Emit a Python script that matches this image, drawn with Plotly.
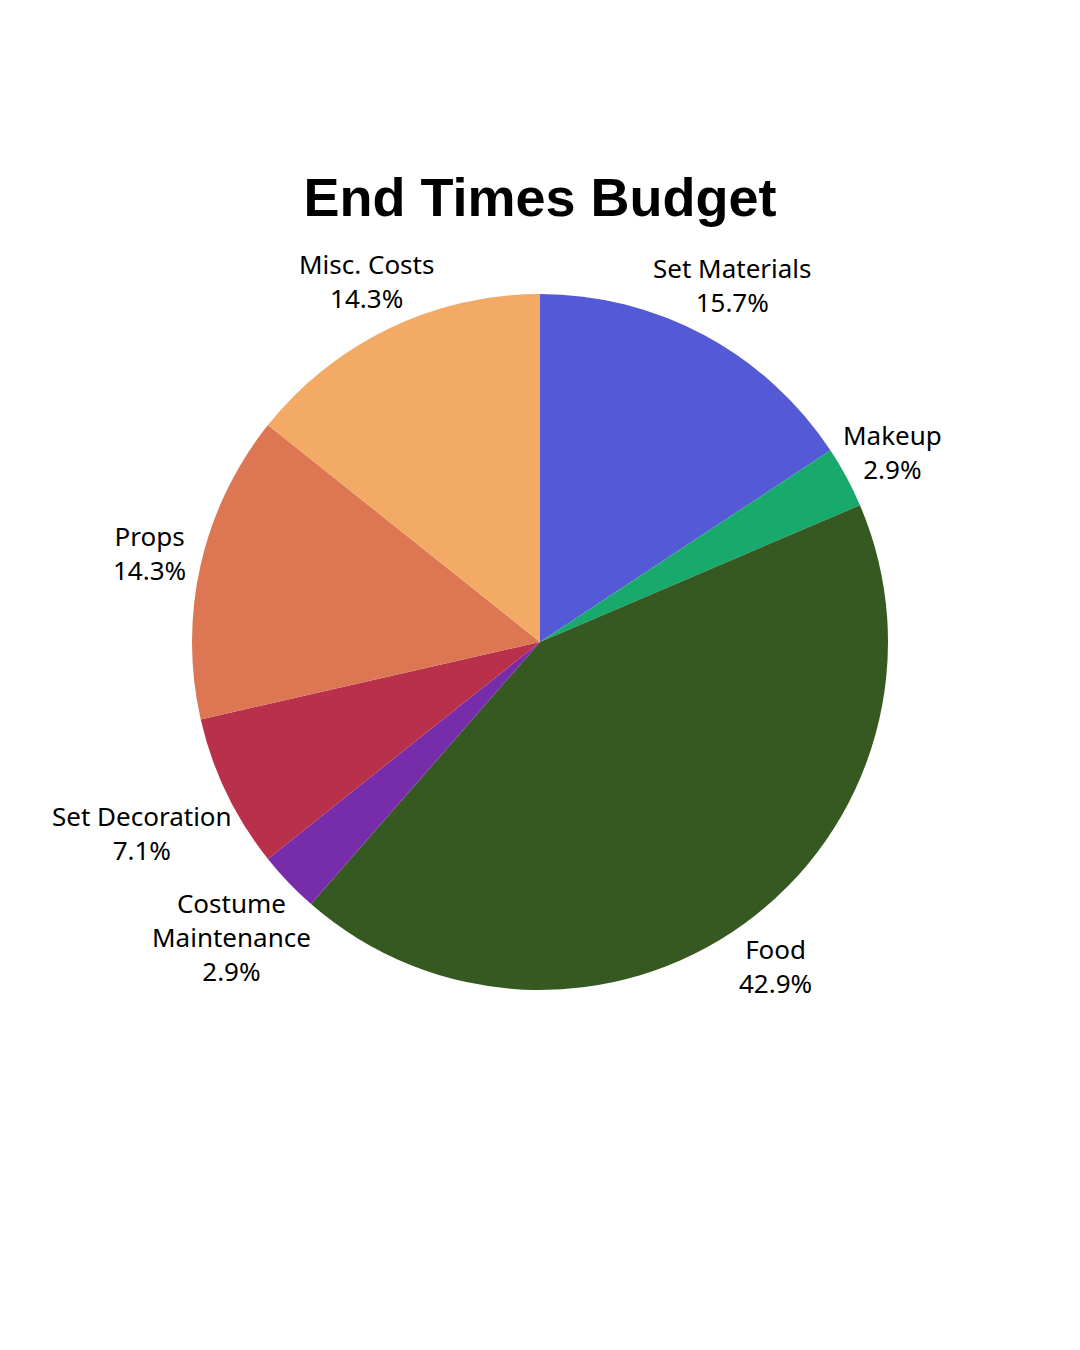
import math
import plotly.graph_objects as go

categories = ["Set Materials", "Makeup", "Food", "Costume<br>Maintenance",
              "Set Decoration", "Props", "Misc. Costs"]
amounts = [11, 2, 30, 2, 5, 10, 10]
slice_colors = ["#545AD6", "#18AA6C", "#365821", "#772CAA",
                "#B8304A", "#DC7653", "#F3AA65"]

W, H = 1080, 1350
# pie geometry in figure pixels (page body adds 8px offset)
cx, cy, R = 532, 1350 - 634, 348
label_size = 26

fig = go.Figure(go.Pie(
    labels=categories,
    values=amounts,
    sort=False,
    direction="clockwise",
    rotation=0,
    marker=dict(colors=slice_colors, line=dict(width=0)),
    textinfo="none",
    domain=dict(x=[(cx - R) / W, (cx + R) / W], y=[(cy - R) / H, (cy + R) / H]),
    showlegend=False,
    hoverinfo="label+percent",
))

# labels sit on each slice's mid angle, pushed out until the box clears the pie
total = sum(amounts)
cum = 0
for name, v in zip(categories, amounts):
    mid = math.radians((cum + v / 2) / total * 360)
    cum += v
    pct = v / total * 100
    lines = name.split("<br>")
    bw = max(len(s) for s in lines) * 13.5
    bh = (len(lines) + 1) * 28
    d = R * 1.15
    while True:
        lx = d * math.sin(mid)
        ly = d * math.cos(mid)
        nx = max(abs(lx) - bw / 2, 0)
        ny = max(abs(ly) - bh / 2, 0)
        if math.hypot(nx, ny) >= R - 4:
            break
        d += 1
    fig.add_annotation(
        x=(cx + lx) / W, y=(cy + ly) / H,
        xref="paper", yref="paper", xanchor="center", yanchor="middle",
        text=f"{name}<br>{pct:.1f}%", showarrow=False,
        font=dict(family="Noto Sans", size=label_size, color="black"),
    )

fig.update_layout(
    width=W, height=H,
    margin=dict(l=0, r=0, t=0, b=0),
    paper_bgcolor="white",
    title=dict(text="<b>End Times Budget</b>", x=cx / W, xanchor="center",
               y=1 - 189 / H, yanchor="middle",
               font=dict(family="Liberation Sans", size=54, color="black")),
)

fig.write_html("out.html")
